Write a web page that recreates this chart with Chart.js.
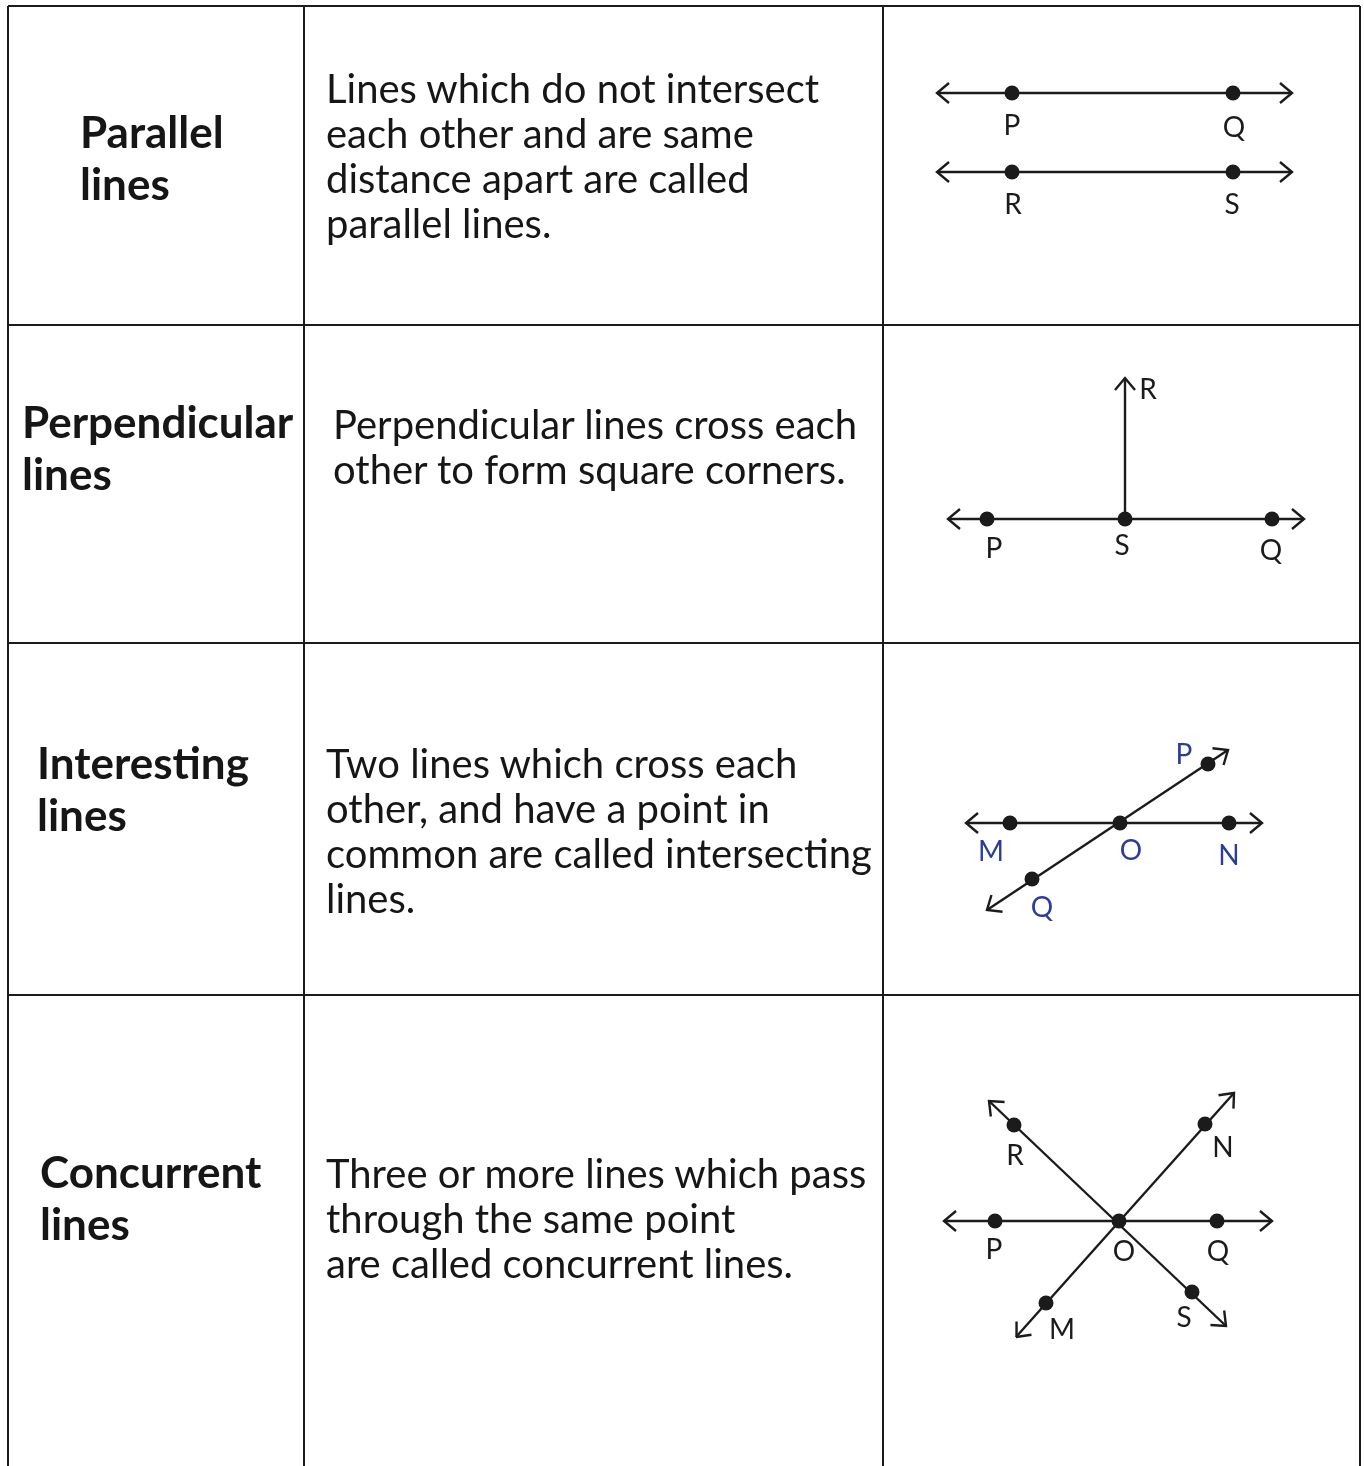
<!DOCTYPE html>
<html>
<head>
<meta charset="utf-8">
<script src="https://cdn.jsdelivr.net/npm/chart.js@4/dist/chart.umd.min.js"></script>
<style>
  html, body { margin: 0; padding: 0; background: #fff; }
  #wrap { position: relative; width: 1364px; height: 1466px; overflow: hidden; }
  #geo { position: absolute; left: 0; top: 0; }
  .head, .desc { position: absolute; white-space: nowrap; color: #161616; font-family: Lato, sans-serif; }
  .head { font-weight: 700; font-size: 44px; line-height: 52px; }
  .desc { font-size: 40px; line-height: 45px; }
</style>
</head>
<body>
<div id="wrap">
  <canvas id="geo" width="1364" height="1466"></canvas>
  <div class="head" style="left:80px;top:105px">Parallel<br>lines</div>
  <div class="desc" style="left:326px;top:66px">Lines which do not intersect<br>each other and are same<br>distance apart are called<br>parallel lines.</div>
  <div class="head" style="left:22px;top:395px">Perpendicular<br>lines</div>
  <div class="desc" style="left:333px;top:402px">Perpendicular lines cross each<br>other to form square corners.</div>
  <div class="head" style="left:37px;top:736px">Interesting<br>lines</div>
  <div class="desc" style="left:326px;top:741px">Two lines which cross each<br>other, and have a point in<br>common are called intersecting<br>lines.</div>
  <div class="head" style="left:40px;top:1145px">Concurrent<br>lines</div>
  <div class="desc" style="left:326px;top:1151px">Three or more lines which pass<br>through the same point<br>are called concurrent lines.</div>
</div>
<script>
// table frame (page pixels)
const tableCols = [8, 304, 883, 1360];
const tableRows = [6, 325, 643, 995];
const tableBottom = 1466;

// diagram lines: x1, y1, x2, y2 (both ends carry an arrow unless noted)
const parallelLines = [[937, 93, 1292, 93], [937, 172, 1292, 172]];
const perpLines = [[948, 519, 1304, 519]];
const perpRay = [[1125, 519, 1125, 378]]; // arrow only at the second end
const interLines = [[966, 823, 1262, 823], [987, 910, 1228, 750]];
const concLines = [[944, 1221, 1272, 1221], [989, 1101, 1226, 1326], [1016, 1337, 1234, 1093]];

// named points
const pointNames = ['P', 'Q', 'R', 'S', 'P', 'S', 'Q', 'M', 'O', 'N', 'P', 'Q', 'P', 'Q', 'R', 'S', 'N', 'M', 'O'];
const pointX = [1012, 1233, 1012, 1233, 987, 1125, 1272, 1010, 1120, 1229, 1208, 1032, 995, 1217, 1014, 1192, 1205, 1046, 1119];
const pointY = [93, 93, 172, 172, 519, 519, 519, 823, 823, 823, 764, 879, 1221, 1221, 1125, 1292, 1124, 1303, 1221];

// letter labels
const labelText = ['P', 'Q', 'R', 'S', 'R', 'P', 'S', 'Q', 'P', 'M', 'O', 'N', 'Q', 'R', 'N', 'P', 'O', 'Q', 'S', 'M'];
const labelX = [1012, 1234, 1013, 1232, 1148, 994, 1122, 1271, 1184, 991, 1131, 1229, 1042, 1015, 1223, 994, 1124, 1218, 1184, 1062];
const labelY = [126, 128, 205, 205, 390, 549, 546, 551, 755, 852, 851, 856, 908, 1156, 1148, 1250, 1252, 1252, 1318, 1330];
const labelBlue = [false, false, false, false, false, false, false, false, true, true, true, true, true, false, false, false, false, false, false, false];

const ink = '#1b1b1b';
const segs = [];
tableCols.forEach(x => segs.push({ pts: [{ x: x, y: tableRows[0] }, { x: x, y: tableBottom }], w: 2 }));
tableRows.forEach(y => segs.push({ pts: [{ x: tableCols[0], y: y }, { x: tableCols[3], y: y }], w: 2 }));

function arrowHead(tx, ty, fx, fy) {
  const dx = tx - fx, dy = ty - fy, len = Math.hypot(dx, dy);
  const ux = dx / len, uy = dy / len;
  const back = 12, side = 10;
  return [
    { x: tx - back * ux + side * uy, y: ty - back * uy - side * ux },
    { x: tx, y: ty },
    { x: tx - back * ux - side * uy, y: ty - back * uy + side * ux }
  ];
}
function addLine(l, both) {
  segs.push({ pts: [{ x: l[0], y: l[1] }, { x: l[2], y: l[3] }], w: 2.4 });
  segs.push({ pts: arrowHead(l[2], l[3], l[0], l[1]), w: 2.4 });
  if (both) segs.push({ pts: arrowHead(l[0], l[1], l[2], l[3]), w: 2.4 });
}
parallelLines.forEach(l => addLine(l, true));
perpLines.forEach(l => addLine(l, true));
perpRay.forEach(l => addLine(l, false));
interLines.forEach(l => addLine(l, true));
concLines.forEach(l => addLine(l, true));

const datasets = segs.map(s => ({
  type: 'line', data: s.pts, borderColor: ink, borderWidth: s.w, clip: false,
  pointRadius: 0, fill: false, tension: 0, borderCapStyle: 'butt', borderJoinStyle: 'miter'
}));
datasets.push({
  type: 'scatter', clip: false,
  data: pointX.map((x, i) => ({ x: x, y: pointY[i] })),
  backgroundColor: ink, borderColor: ink, borderWidth: 0, pointRadius: 7.5, pointHoverRadius: 7.5
});

const letterPlugin = {
  id: 'letters',
  afterDatasetsDraw(chart) {
    const c = chart.ctx, xs = chart.scales.x, ys = chart.scales.y;
    c.save();
    c.textAlign = 'center';
    c.textBaseline = 'middle';
    labelText.forEach((t, i) => {
      c.font = '28px Lato';
      c.fillStyle = labelBlue[i] ? '#2c3c99' : ink;
      c.fillText(t, xs.getPixelForValue(labelX[i]), ys.getPixelForValue(labelY[i]));
    });
    c.restore();
  }
};

new Chart(document.getElementById('geo'), {
  type: 'scatter',
  data: { datasets: datasets },
  plugins: [letterPlugin],
  options: {
    responsive: false,
    animation: false,
    events: [],
    layout: { padding: 0, autoPadding: false },
    plugins: { legend: { display: false }, tooltip: { enabled: false } },
    scales: {
      x: { type: 'linear', min: 0, max: 1364, display: false },
      y: { type: 'linear', min: 0, max: 1466, reverse: true, display: false }
    }
  }
});
</script>
</body>
</html>
